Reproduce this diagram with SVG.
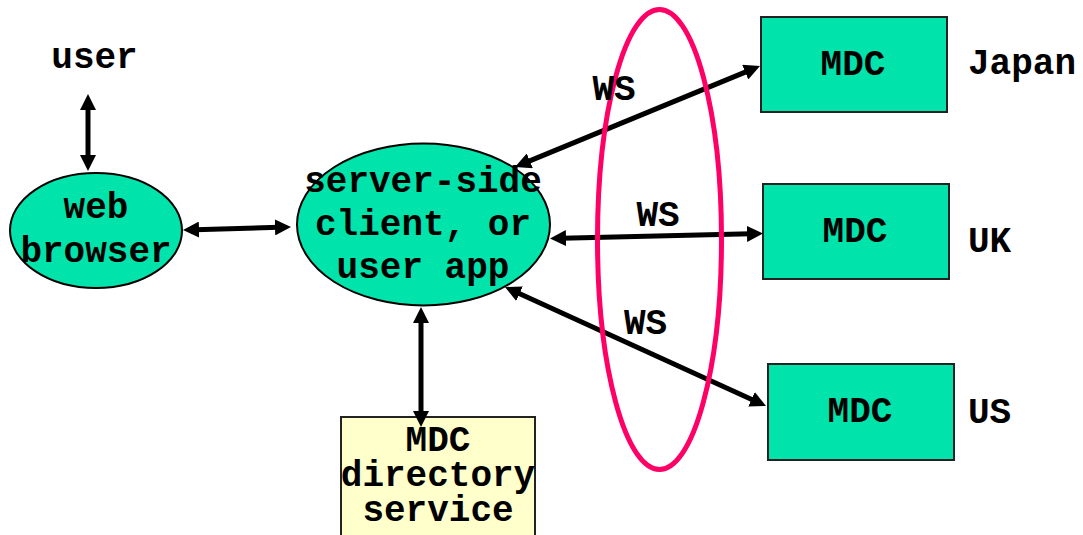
<svg xmlns="http://www.w3.org/2000/svg" width="1083" height="535" viewBox="0 0 1083 535">
<defs>
<style>
.t{font-family:"Liberation Mono","Courier New",monospace;font-weight:bold;font-size:36px;fill:#000}
.c{text-anchor:middle}
.node{fill:#00E3AA;stroke:#000;stroke-width:2}
.box{fill:#00E3AA;stroke:#222;stroke-width:2}
.conn{stroke:#000;stroke-width:5;fill:none;marker-start:url(#ah);marker-end:url(#ah)}
</style>
<marker id="ah" markerUnits="userSpaceOnUse" markerWidth="16" markerHeight="16" refX="4" refY="8" orient="auto-start-reverse">
<path d="M0,0 L16,8 L0,16 Z" fill="#000"/>
</marker>
</defs>
<rect width="1083" height="535" fill="#fff"/>

<g id="user">
<text class="t c" x="94.5" y="68">user</text>
</g>

<g id="web-browser">
<ellipse class="node" cx="96" cy="230.5" rx="86" ry="57.5"/>
<text class="t c" x="96" y="218">web</text>
<text class="t c" x="96" y="262">browser</text>
</g>

<g id="server-client">
<ellipse class="node" cx="423.5" cy="224.5" rx="126.5" ry="81"/>
<text class="t c" x="423" y="192">server-side</text>
<text class="t c" x="423" y="235">client, or</text>
<text class="t c" x="423" y="278">user app</text>
</g>

<g id="mdc-directory">
<rect x="341" y="417" width="194" height="130" fill="#FFFFCC" stroke="#222" stroke-width="2"/>
<text class="t c" x="438" y="451">MDC</text>
<text class="t c" x="438" y="486">directory</text>
<text class="t c" x="438" y="521">service</text>
</g>

<g id="mdc-japan">
<rect class="box" x="761" y="17" width="186" height="95"/>
<text class="t c" x="853" y="75">MDC</text>
</g>

<g id="mdc-uk">
<rect class="box" x="763" y="184" width="186" height="95"/>
<text class="t c" x="855" y="242">MDC</text>
</g>

<g id="mdc-us">
<rect class="box" x="768" y="364" width="186" height="96"/>
<text class="t c" x="860" y="422">MDC</text>
</g>

<g id="connectors">
<line class="conn" x1="88" y1="106" x2="88" y2="159"/>
<line class="conn" x1="195" y1="229.7" x2="279" y2="227.3"/>
<line class="conn" x1="526.1" y1="162.4" x2="748.9" y2="70.6"/>
<line class="conn" x1="562" y1="238.2" x2="751" y2="233.8"/>
<line class="conn" x1="515.9" y1="292" x2="755.1" y2="401"/>
<line class="conn" x1="421" y1="319" x2="421" y2="415"/>
</g>

<g id="ws-group">
<ellipse cx="659.5" cy="239.5" rx="62" ry="230" fill="none" stroke="#FF0066" stroke-width="5"/>
</g>

<g id="labels">
<text class="t c" x="614" y="100">WS</text>
<text class="t c" x="658" y="226">WS</text>
<text class="t c" x="645.5" y="334">WS</text>
<text class="t" x="968" y="74">Japan</text>
<text class="t" x="968" y="252">UK</text>
<text class="t" x="968" y="423">US</text>
</g>
</svg>
